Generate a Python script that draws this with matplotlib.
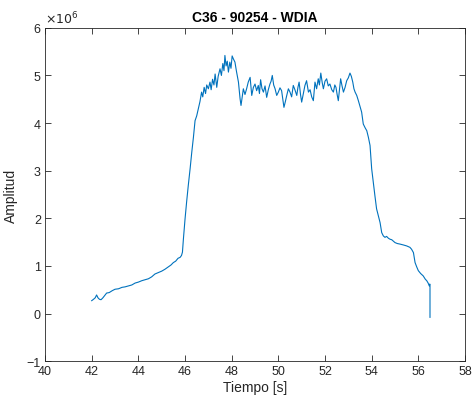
import matplotlib
matplotlib.use("Agg")
import matplotlib.pyplot as plt

# tiempo [s] and amplitud [x1e6]
tiempo = [
    42.00, 42.08, 42.15, 42.21, 42.27, 42.33, 42.40, 42.48, 42.56, 42.64,
    42.75, 42.88, 43.00, 43.15, 43.30, 43.43, 43.58, 43.72, 43.86, 44.00,
    44.15, 44.29, 44.43, 44.57, 44.71, 44.85, 45.00, 45.14, 45.28, 45.40,
    45.50, 45.60, 45.70, 45.79, 45.85, 45.89, 45.93, 46.00, 46.07, 46.14,
    46.22, 46.29, 46.36, 46.43, 46.50, 46.57, 46.64, 46.71, 46.76, 46.82,
    46.88, 46.93, 47.00, 47.07, 47.12, 47.18, 47.24, 47.29, 47.36, 47.42,
    47.50, 47.56, 47.62, 47.67, 47.71, 47.76, 47.81, 47.86, 47.92, 47.97,
    48.02, 48.07, 48.14, 48.20, 48.29, 48.36, 48.40, 48.45, 48.50, 48.57,
    48.64, 48.71, 48.79, 48.86, 48.93, 49.00, 49.07, 49.14, 49.19, 49.24,
    49.30, 49.36, 49.43, 49.50, 49.57, 49.64, 49.69, 49.74, 49.80, 49.86,
    49.93, 50.00, 50.07, 50.14, 50.19, 50.24, 50.30, 50.36, 50.43, 50.50,
    50.57, 50.64, 50.71, 50.79, 50.84, 50.89, 50.95, 51.00, 51.07, 51.14,
    51.21, 51.29, 51.36, 51.43, 51.50, 51.57, 51.64, 51.71, 51.76, 51.82,
    51.88, 51.93, 52.00, 52.07, 52.14, 52.21, 52.29, 52.36, 52.42, 52.47,
    52.52, 52.57, 52.62, 52.67, 52.73, 52.79, 52.86, 52.93, 53.00, 53.07,
    53.13, 53.19, 53.24, 53.29, 53.36, 53.43, 53.50, 53.57, 53.64, 53.72,
    53.79, 53.86, 53.93, 54.00, 54.07, 54.14, 54.21, 54.29, 54.36, 54.43,
    54.50, 54.57, 54.64, 54.72, 54.79, 54.86, 55.00, 55.10, 55.20, 55.36,
    55.50, 55.64, 55.71, 55.79, 55.86, 55.93, 56.00, 56.10, 56.21, 56.30,
    56.36, 56.42, 56.47, 56.49, 56.50, 56.50,
]
amplitud = [
    0.27, 0.30, 0.33, 0.39, 0.33, 0.30, 0.29, 0.33, 0.38, 0.43,
    0.44, 0.48, 0.51, 0.52, 0.55, 0.56, 0.58, 0.60, 0.64, 0.66,
    0.69, 0.71, 0.73, 0.77, 0.83, 0.86, 0.89, 0.93, 0.98, 1.02,
    1.07, 1.10, 1.16, 1.18, 1.22, 1.29, 1.56, 1.98, 2.35, 2.69,
    3.05, 3.39, 3.70, 4.05, 4.15, 4.30, 4.45, 4.65, 4.55, 4.75,
    4.62, 4.80, 4.72, 4.86, 4.70, 4.92, 4.80, 5.03, 4.75, 4.98,
    5.14, 5.00, 5.25, 5.10, 5.42, 5.20, 5.30, 5.07, 5.28, 5.15,
    5.41, 5.35, 5.28, 5.10, 4.86, 4.51, 4.37, 4.55, 4.72, 4.60,
    4.72, 4.86, 4.96, 4.58, 4.75, 4.82, 4.68, 4.79, 4.62, 4.91,
    4.72, 4.65, 4.78, 4.54, 4.70, 4.82, 4.88, 5.00, 4.80, 4.72,
    4.58, 4.65, 4.74, 4.68, 4.50, 4.33, 4.45, 4.58, 4.72, 4.65,
    4.55, 4.79, 4.70, 4.58, 4.75, 4.86, 4.60, 4.44, 4.62, 4.79,
    4.89, 4.65, 4.70, 4.55, 4.47, 4.86, 4.72, 4.93, 4.80, 5.05,
    4.85, 4.72, 4.88, 4.93, 4.78, 4.82, 4.70, 4.65, 4.80, 4.75,
    4.60, 4.47, 4.70, 4.93, 4.78, 4.65, 4.75, 4.89, 4.95, 5.05,
    4.98, 4.86, 4.72, 4.65, 4.58, 4.47, 4.35, 4.23, 3.98, 3.90,
    3.84, 3.70, 3.53, 3.04, 2.75, 2.47, 2.20, 2.05, 1.91, 1.70,
    1.63, 1.60, 1.62, 1.58, 1.56, 1.55, 1.49, 1.47, 1.46, 1.44,
    1.42, 1.39, 1.35, 1.28, 1.07, 0.98, 0.90, 0.84, 0.79, 0.72,
    0.69, 0.64, 0.58, 0.62, 0.60, -0.08,
]

axis_color = "#262626"
plt.rcParams["font.family"] = ["Liberation Sans", "DejaVu Sans"]

fig = plt.figure(figsize=(4.74, 4.06), dpi=100)
ax = fig.add_axes([0.095, 0.108, 0.886, 0.821])
ax.plot(tiempo, amplitud, color="#0072BD", linewidth=0.8)

ax.set_xlim(40, 58)
ax.set_ylim(-1, 6)
ax.set_xticks(range(40, 59, 2))
ax.set_yticks(range(-1, 7))

for spine in ax.spines.values():
    spine.set_color(axis_color)
    spine.set_linewidth(0.6)
ax.tick_params(direction="in", top=True, right=True, length=4, width=0.6,
               colors=axis_color, labelsize=9, pad=3)

ax.set_title("C36 - 90254 - WDIA", fontsize=10, fontweight="bold",
             color="black", pad=5)
ax.set_xlabel("Tiempo [s]", fontsize=10, color=axis_color, labelpad=2)
ax.set_ylabel("Amplitud", fontsize=10, color=axis_color, labelpad=6)
ax.text(0.0, 1.005, r"$\times10^{6}$", transform=ax.transAxes, fontsize=9,
        color=axis_color, ha="left", va="bottom")

fig.savefig("out.png", dpi=100)
